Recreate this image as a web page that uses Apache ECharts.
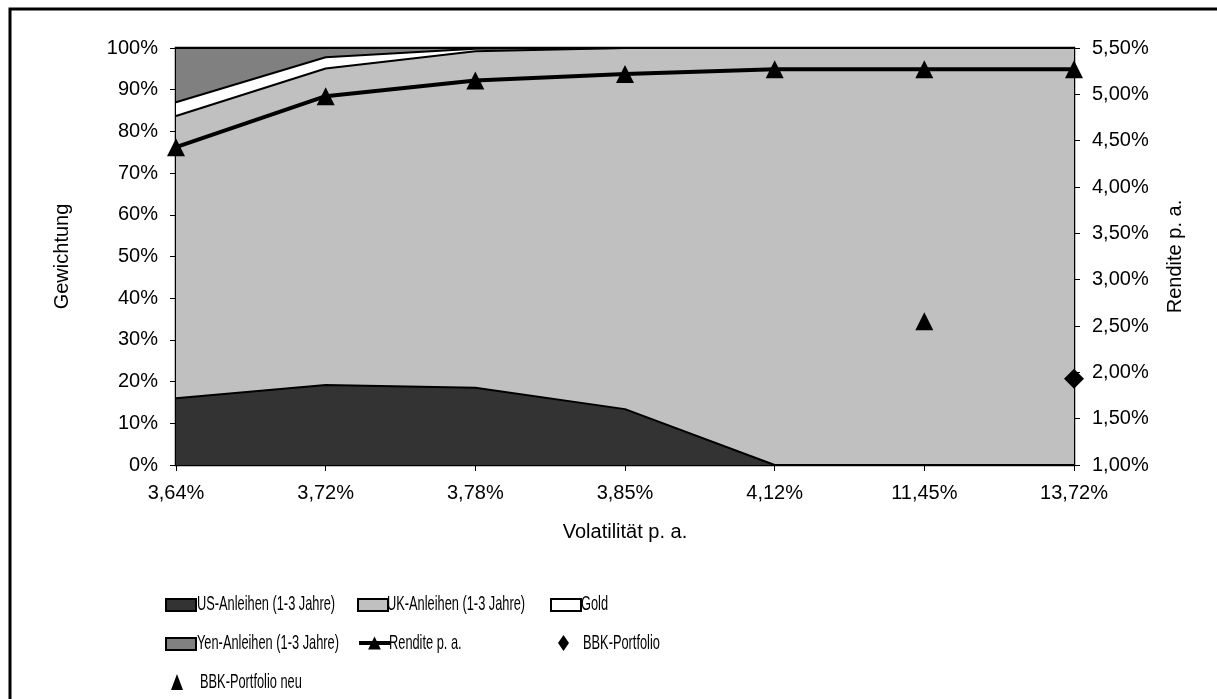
<!DOCTYPE html>
<html>
<head>
<meta charset="utf-8">
<script src="https://cdn.jsdelivr.net/npm/echarts@6/dist/echarts.min.js"></script>
<style>
  html, body { margin: 0; padding: 0; background: #fff; }
  #chart { width: 1217px; height: 699px; }
</style>
</head>
<body>
<div id="chart"></div>
<script>
// Volatility levels of the efficient portfolios (category axis)
const volatility = ['3,64%', '3,72%', '3,78%', '3,85%', '4,12%', '11,45%', '13,72%'];

// Portfolio weights in percent
const usBonds  = [16.0, 19.2, 18.5, 13.4, 0, 0, 0];
const ukBonds  = [67.7, 75.9, 80.7, 86.6, 100, 100, 100];
const gold     = [3.3, 2.7, 0.6, 0, 0, 0, 0];
const yenBonds = [13.0, 2.2, 0.2, 0, 0, 0, 0];

// Return p. a. in percent (right axis)
const rendite = [4.43, 4.98, 5.15, 5.22, 5.27, 5.27, 5.27];
const bbk     = [null, null, null, null, null, null, 1.93];
const bbkNeu  = [null, null, null, null, null, 2.55, null];

const FONT = "'Liberation Sans', Arial, sans-serif";

const chart = echarts.init(document.getElementById('chart'), null, { renderer: 'canvas' });

function areaSeries(name, data, color) {
  return {
    name, type: 'line', stack: 'w', data,
    symbol: 'none', smooth: false,
    lineStyle: { color: '#000', width: 2 },
    itemStyle: { color },
    areaStyle: { color, opacity: 1 },
    emphasis: { disabled: true },
    z: 2
  };
}

// Legend symbols come from the legend component; the condensed labels are drawn as text beside them
function legendBox(name, left, top, opts) {
  return Object.assign({
    data: [name], left, top, padding: 0,
    itemWidth: 30, itemHeight: 12,
    icon: 'rect',
    selectedMode: false,
    formatter: () => '',
    itemStyle: { borderColor: '#000', borderWidth: 2 },
    textStyle: { fontSize: 12 }
  }, opts || {});
}

function legendLabel(text, x, y) {
  return {
    type: 'text', x, y, scaleX: 0.61, silent: true,
    style: { x: 0, y: 0, text, fontFamily: FONT, fontSize: 21, fill: '#000', align: 'left', verticalAlign: 'middle' }
  };
}

const pct2 = v => v.toFixed(2).replace('.', ',') + '%';

chart.setOption({
  animation: false,
  backgroundColor: '#fff',
  textStyle: { fontFamily: FONT },
  graphic: [
    {
      type: 'rect',
      shape: { x: 10, y: 9, width: 1230, height: 720 },
      style: { fill: 'none', stroke: '#000', lineWidth: 3 },
      silent: true
    },
    legendLabel('US-Anleihen (1-3 Jahre)', 197, 604),
    legendLabel('UK-Anleihen (1-3 Jahre)', 387, 604),
    legendLabel('Gold', 581, 604),
    legendLabel('Yen-Anleihen (1-3 Jahre)', 197, 643),
    legendLabel('Rendite p. a.', 389, 643),
    legendLabel('BBK-Portfolio', 583, 643),
    legendLabel('BBK-Portfolio neu', 200, 682)
  ],
  grid: {
    left: 176, right: 143, top: 48, bottom: 234,
    show: true, borderColor: '#000', borderWidth: 2.5, backgroundColor: 'transparent'
  },
  legend: [
    legendBox('US-Anleihen (1-3 Jahre)', 165, 598),
    legendBox('UK-Anleihen (1-3 Jahre)', 357, 598),
    legendBox('Gold', 550, 598),
    legendBox('Yen-Anleihen (1-3 Jahre)', 165, 637),
    legendBox('Rendite p. a.', 357, 635, {
      icon: null, itemWidth: 31, itemHeight: 16, itemStyle: {},
      lineStyle: { width: 4, color: '#000' }
    }),
    legendBox('BBK-Portfolio', 558, 635, { icon: 'diamond', itemWidth: 11, itemHeight: 16, itemStyle: {} }),
    legendBox('BBK-Portfolio neu', 171, 674, { icon: 'triangle', itemWidth: 12, itemHeight: 16, itemStyle: {} })
  ],
  xAxis: {
    type: 'category', data: volatility, boundaryGap: false,
    name: 'Volatilität p. a.', nameLocation: 'middle', nameGap: 57,
    nameTextStyle: { fontSize: 20, color: '#000', fontFamily: FONT },
    axisLine: { lineStyle: { color: '#000', width: 2 } },
    axisTick: { alignWithLabel: true, length: 6, lineStyle: { color: '#000', width: 1 } },
    axisLabel: { fontSize: 20, color: '#000', margin: 18, fontFamily: FONT },
    splitLine: { show: false }
  },
  yAxis: [{
    type: 'value', min: 0, max: 100, interval: 10, position: 'left',
    name: 'Gewichtung', nameLocation: 'middle', nameGap: 104, nameRotate: 90,
    nameTextStyle: { fontSize: 20, color: '#000', fontFamily: FONT },
    axisLine: { show: true, lineStyle: { color: '#000', width: 2 } },
    axisTick: { show: true, length: 6, lineStyle: { color: '#000', width: 1 } },
    axisLabel: { fontSize: 20, color: '#000', margin: 18, formatter: v => v + '%', fontFamily: FONT },
    splitLine: { show: false }
  }, {
    type: 'value', min: 1, max: 5.5, interval: 0.5, position: 'right',
    name: 'Rendite p. a.', nameLocation: 'middle', nameGap: 91, nameRotate: 90,
    nameTextStyle: { fontSize: 20, color: '#000', fontFamily: FONT },
    axisLine: { show: true, lineStyle: { color: '#000', width: 2 } },
    axisTick: { show: true, length: 6, lineStyle: { color: '#000', width: 1 } },
    axisLabel: { fontSize: 20, color: '#000', margin: 18, formatter: pct2, fontFamily: FONT },
    splitLine: { show: false }
  }],
  series: [
    areaSeries('US-Anleihen (1-3 Jahre)', usBonds, '#333333'),
    areaSeries('UK-Anleihen (1-3 Jahre)', ukBonds, '#c0c0c0'),
    areaSeries('Gold', gold, '#ffffff'),
    areaSeries('Yen-Anleihen (1-3 Jahre)', yenBonds, '#808080'),
    {
      name: 'Rendite p. a.', type: 'line', yAxisIndex: 1, data: rendite,
      symbol: 'triangle', symbolSize: 18,
      lineStyle: { color: '#000', width: 4 },
      itemStyle: { color: '#000' },
      emphasis: { disabled: true }, z: 5
    },
    {
      name: 'BBK-Portfolio', type: 'scatter', yAxisIndex: 1, data: bbk,
      symbol: 'diamond', symbolSize: 20,
      itemStyle: { color: '#000', opacity: 1 }, emphasis: { disabled: true }, z: 6
    },
    {
      name: 'BBK-Portfolio neu', type: 'scatter', yAxisIndex: 1, data: bbkNeu,
      symbol: 'triangle', symbolSize: 18,
      itemStyle: { color: '#000', opacity: 1 }, emphasis: { disabled: true }, z: 6
    }
  ]
});
</script>
</body>
</html>
